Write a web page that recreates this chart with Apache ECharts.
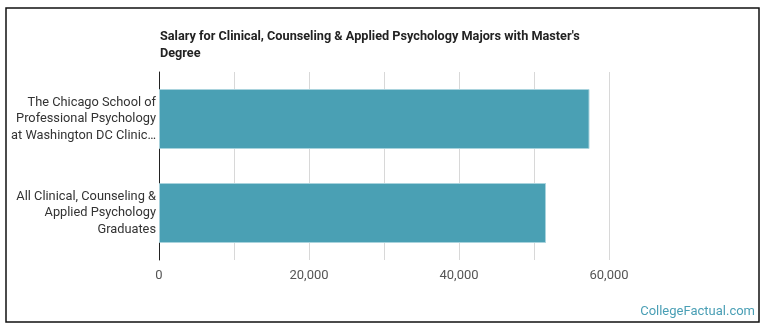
<!DOCTYPE html>
<html>
<head>
<meta charset="utf-8">
<script src="https://cdn.jsdelivr.net/npm/echarts@6/dist/echarts.min.js"></script>
<style>
  html, body { margin: 0; padding: 0; background: #fff; }
  #chart { width: 770px; height: 335px; }
</style>
</head>
<body>
<div id="chart"></div>
<script>
// data
const categories = [
  'The Chicago School of\nProfessional Psychology\nat Washington DC Clinic…',
  'All Clinical, Counseling &\nApplied Psychology\nGraduates'
];
const salaries = [57400, 51600];
const titleText = "Salary for Clinical, Counseling & Applied Psychology Majors with Master's\nDegree";

const chart = echarts.init(document.getElementById('chart'), null, { renderer: 'canvas' });

const option = {
  animation: false,
  title: {
    text: titleText,
    left: 155,
    top: 23,
    textStyle: {
      fontFamily: "'Liberation Sans Narrow', Roboto, sans-serif",
      fontSize: 12.7,
      fontWeight: 'bold',
      color: '#222',
      lineHeight: 17
    }
  },
  graphic: [
    {
      type: 'rect',
      shape: { x: 6, y: 8, width: 753, height: 314 },
      style: { fill: 'none', stroke: '#111', lineWidth: 1.5 },
      z: 100
    },
    {
      type: 'text',
      right: 15,
      top: 305,
      style: {
        text: 'CollegeFactual.com',
        fill: '#4a9fb5',
        font: '13px Roboto, sans-serif'
      }
    }
  ],
  grid: {
    left: 159,
    right: 86,
    top: 72,
    bottom: 75
  },
  xAxis: {
    type: 'value',
    min: 0,
    max: 70000,
    interval: 10000,
    axisLine: { show: false },
    axisTick: { show: false },
    axisLabel: {
      margin: 9,
      color: '#555',
      fontSize: 13,
      fontFamily: 'Roboto, sans-serif',
      formatter: function (v) {
        if (v % 20000 !== 0 || v > 60000) return '';
        return v.toLocaleString('en-US');
      }
    },
    splitLine: {
      show: true,
      showMaxLine: false,
      lineStyle: { color: '#d8d8d8', width: 1 }
    }
  },
  yAxis: {
    type: 'category',
    inverse: true,
    data: categories,
    axisLine: { show: true, lineStyle: { color: '#222', width: 1 } },
    axisTick: { show: false },
    axisLabel: {
      margin: 3,
      color: '#333',
      fontSize: 12.8,
      lineHeight: 16.5,
      fontFamily: 'Roboto, sans-serif',
      align: 'right'
    }
  },
  series: [
    {
      type: 'bar',
      data: salaries,
      barWidth: 60,
      itemStyle: {
        color: '#4aa0b4',
        borderColor: '#a9d3dd',
        borderWidth: 1
      }
    }
  ]
};

chart.setOption(option);
</script>
</body>
</html>
